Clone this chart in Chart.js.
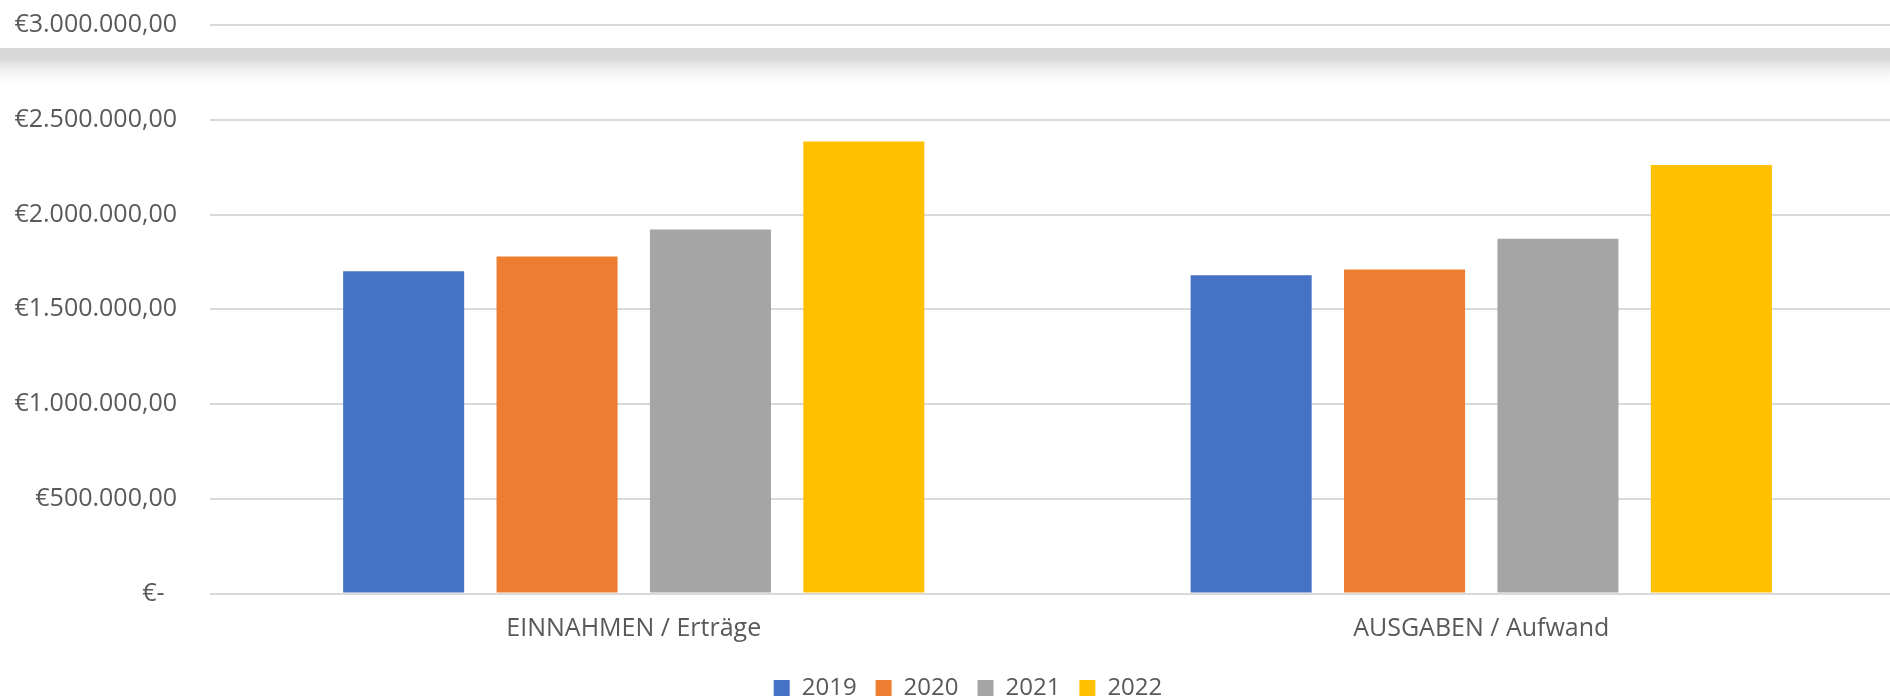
<!DOCTYPE html>
<html>
<head>
<meta charset="utf-8">
<script src="https://cdn.jsdelivr.net/npm/chart.js@4"></script>
<style>
  body { margin: 0; overflow: hidden; background: #fff; }
  #wrap { position: relative; width: 1905px; height: 710px; }
  /* grauer Streifen oben (wie im Original-Screenshot) */
  #band { position: absolute; left: 0; top: 48px; width: 1905px; height: 36px;
    background: linear-gradient(#d6d6d6 0%, #d9d9d9 30%, #e9e9e9 50%, #f6f6f6 72%, #fff 100%); }
</style>
</head>
<body>
<div id="wrap">
  <canvas id="myBarChart"></canvas>
  <div id="band"></div>
</div>
<script>
// Kategorien
var categories = ["EINNAHMEN / Erträge", "AUSGABEN / Aufwand"];
// Jahre (Legende)
var years = ["2019", "2020", "2021", "2022"];
// Werte pro Jahr: [Einnahmen, Ausgaben]
var values2019 = [1700000, 1680000];
var values2020 = [1778000, 1710000];
var values2021 = [1921000, 1872000];
var values2022 = [2385000, 2261000];
// y-Achse
var yTicks = [0, 500000, 1000000, 1500000, 2000000, 2500000, 3000000];
var yTickLabels = ["€-\u2002", "€500.000,00", "€1.000.000,00", "€1.500.000,00", "€2.000.000,00", "€2.500.000,00", "€3.000.000,00"];

var colors = ["#4472C4", "#ED7D31", "#A5A5A5", "#FFC000"];
var allValues = [values2019, values2020, values2021, values2022];

var datasets = [];
for (var i = 0; i < years.length; i++) {
  datasets.push({
    label: years[i],
    data: allValues[i],
    backgroundColor: colors[i],
    borderWidth: 0,
    categoryPercentage: 0.724,
    barPercentage: 0.789
  });
}

var textColor = "#595959";
var fontFamily = "'Open Sans', 'Noto Sans', sans-serif";

// Legende etwas nach rechts schieben (Mitte wie im Original)
var legendShift = {
  id: 'legendShift',
  afterLayout: function (chart) {
    chart.legend.left += 31;
  }
};

var ctx = document.getElementById("myBarChart");
var myBarChart = new Chart(ctx, {
  type: 'bar',
  data: {
    labels: categories,
    datasets: datasets
  },
  plugins: [legendShift],
  options: {
    responsive: true,
    maintainAspectRatio: false,
    animation: false,
    layout: {
      padding: { left: 0, top: 25, right: 0, bottom: 0 }
    },
    plugins: {
      tooltip: { enabled: false },
      legend: {
        position: 'bottom',
        labels: {
          color: textColor,
          font: { family: fontFamily, size: 24 },
          boxWidth: 16,
          boxHeight: 16,
          padding: 19
        }
      }
    },
    scales: {
      x: {
        grid: { display: false, drawTicks: false },
        border: { display: false },
        ticks: {
          color: textColor,
          font: { family: fontFamily, size: 25 },
          padding: 20
        },
        // Höhe so, dass die Nulllinie bei y=593 liegt
        afterFit: function (scale) {
          scale.height = 710 - 593.5 - scale.chart.legend.height;
        }
      },
      y: {
        min: 0,
        max: 3000000,
        afterBuildTicks: function (scale) {
          scale.ticks = yTicks.map(function (v) { return { value: v }; });
        },
        ticks: {
          color: textColor,
          font: { family: fontFamily, size: 25 },
          padding: 33,
          callback: function (value) {
            var idx = yTicks.indexOf(value);
            return idx >= 0 ? yTickLabels[idx] : '';
          }
        },
        grid: { color: "#d9d9d9", lineWidth: 2, drawTicks: false },
        border: { display: false },
        afterFit: function (scale) {
          scale.width = 210;
          // sonst wird oben zu viel Platz gelassen
          scale.paddingTop = 0;
          scale.paddingBottom = 0;
        }
      }
    }
  }
});
</script>
</body>
</html>
